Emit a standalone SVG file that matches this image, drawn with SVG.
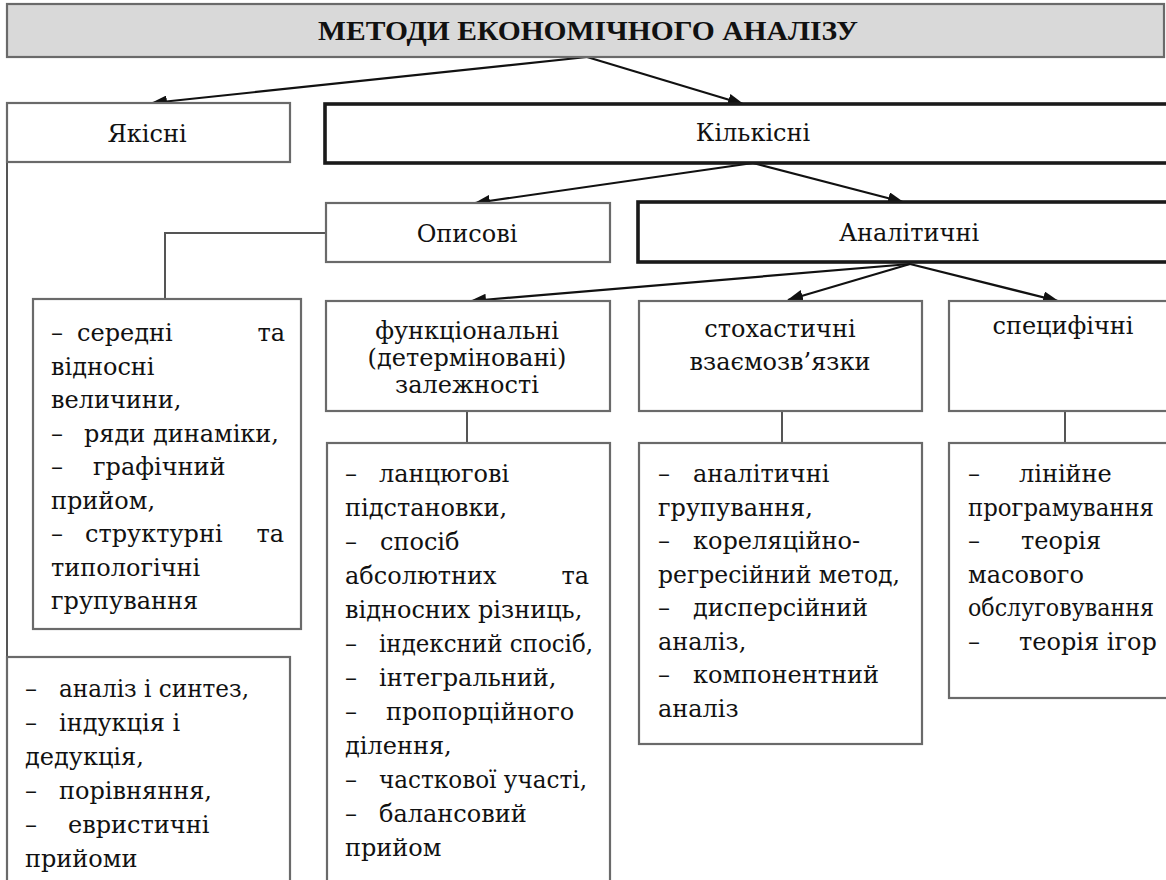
<svg xmlns="http://www.w3.org/2000/svg" width="1166" height="880" viewBox="0 0 1166 880">
<defs>
<marker id="ah" markerUnits="userSpaceOnUse" markerWidth="16" markerHeight="12" refX="15" refY="6" orient="auto">
<path d="M0,0 L16,6 L0,12 Z" fill="#111"/>
</marker>
<style>
.box{fill:#fff;stroke:#6a6a6a;stroke-width:2.2}
.thick{fill:#fff;stroke:#1a1a1a;stroke-width:3.6}
.title{fill:#d9d9d9;stroke:#6a6a6a;stroke-width:2.2}
.arr{fill:none;stroke:#111;stroke-width:2.2;marker-end:url(#ah)}
.ln{fill:none;stroke:#555;stroke-width:2}
.c{text-anchor:middle}
.b{font-family:"Liberation Serif",serif;font-weight:bold;font-size:28px}
</style>
</defs>
<rect width="1166" height="880" fill="#fff"/>

<g id="connectors">
<path class="arr" d="M587,57 L152,103"/>
<path class="arr" d="M587,57 L743,104"/>
<path class="arr" d="M753,163 L475,203"/>
<path class="arr" d="M753,163 L903,202"/>
<path class="arr" d="M910,264 L471,301"/>
<path class="arr" d="M910,264 L788,300"/>
<path class="arr" d="M910,264 L1058,301"/>
<path class="ln" d="M326,233 H165 V299"/>
<path class="ln" d="M7,162 V657"/>
<path class="ln" d="M467,411 V443"/>
<path class="ln" d="M782,411 V443"/>
<path class="ln" d="M1065,411 V443"/>
</g>

<g font-family="DejaVu Serif, serif" font-size="24" fill="#111">
<g id="title">
<rect class="title" x="7" y="4" width="1157" height="53"/>
<text class="c b" x="588" y="40" textLength="540" lengthAdjust="spacingAndGlyphs">МЕТОДИ ЕКОНОМІЧНОГО  АНАЛІЗУ</text>
</g>

<g id="yakisni">
<rect class="box" x="7" y="103" width="283" height="59"/>
<text class="c" x="147" y="142">Якісні</text>
</g>

<g id="kilkisni">
<rect class="thick" x="325" y="104" width="860" height="59"/>
<text class="c" x="753" y="141">Кількісні</text>
</g>

<g id="opysovi">
<rect class="box" x="326" y="203" width="284" height="59"/>
<text class="c" x="467" y="242">Описові</text>
</g>

<g id="analitychni">
<rect class="thick" x="638" y="202" width="547" height="60"/>
<text class="c" x="909" y="241">Аналітичні</text>
</g>

<g id="funktsionalni">
<rect class="box" x="326" y="301" width="284" height="110"/>
<text class="c" x="467" y="339">функціональні</text>
<text class="c" x="467" y="366">(детерміновані)</text>
<text class="c" x="467" y="393">залежності</text>
</g>

<g id="stokhastychni">
<rect class="box" x="639" y="301" width="283" height="110"/>
<text class="c" x="780" y="337">стохастичні</text>
<text class="c" x="780" y="370">взаємозв’язки</text>
</g>

<g id="spetsyfichni">
<rect class="box" x="949" y="301" width="236" height="110"/>
<text class="c" x="1063" y="334">специфічні</text>
</g>

<g id="opysovi-list">
<rect class="box" x="33" y="299" width="268" height="330"/>
<text x="51" y="341">–</text><text x="77" y="341">середні</text><text x="285" y="341" text-anchor="end">та</text>
<text x="51" y="374.5">відносні</text>
<text x="51" y="408">величини,</text>
<text x="51" y="441.5">–</text><text x="84" y="441.5">ряди динаміки,</text>
<text x="51" y="475">–</text><text x="93" y="475">графічний</text>
<text x="51" y="508.5">прийом,</text>
<text x="51" y="542">–</text><text x="85" y="542">структурні</text><text x="284" y="542" text-anchor="end">та</text>
<text x="51" y="575.5">типологічні</text>
<text x="51" y="609">групування</text>
</g>

<g id="yakisni-list">
<rect class="box" x="7" y="657" width="283" height="240"/>
<text x="25" y="697">–</text><text x="59" y="697" textLength="190" lengthAdjust="spacingAndGlyphs">аналіз і синтез,</text>
<text x="25" y="731">–</text><text x="59" y="731">індукція і</text>
<text x="25" y="765">дедукція,</text>
<text x="25" y="799">–</text><text x="59" y="799">порівняння,</text>
<text x="25" y="833">–</text><text x="68" y="833">евристичні</text>
<text x="25" y="867">прийоми</text>
</g>

<g id="funktsionalni-list">
<rect class="box" x="327" y="443" width="283" height="450"/>
<text x="345" y="482">–</text><text x="379" y="482">ланцюгові</text>
<text x="345" y="516">підстановки,</text>
<text x="345" y="550">–</text><text x="380" y="550">спосіб</text>
<text x="345" y="584">абсолютних</text><text x="589" y="584" text-anchor="end">та</text>
<text x="345" y="618">відносних різниць,</text>
<text x="345" y="652">–</text><text x="379" y="652" textLength="214" lengthAdjust="spacingAndGlyphs">індексний спосіб,</text>
<text x="345" y="686">–</text><text x="379" y="686">інтегральний,</text>
<text x="345" y="720">–</text><text x="386" y="720">пропорційного</text>
<text x="345" y="754">ділення,</text>
<text x="345" y="788">–</text><text x="379" y="788" textLength="208" lengthAdjust="spacingAndGlyphs">часткової участі,</text>
<text x="345" y="822">–</text><text x="379" y="822">балансовий</text>
<text x="345" y="856">прийом</text>
</g>

<g id="stokhastychni-list">
<rect class="box" x="639" y="443" width="283" height="301"/>
<text x="658" y="482">–</text><text x="693" y="482">аналітичні</text>
<text x="658" y="515.5">групування,</text>
<text x="658" y="549">–</text><text x="693" y="549">кореляційно-</text>
<text x="658" y="582.5" textLength="242" lengthAdjust="spacingAndGlyphs">регресійний метод,</text>
<text x="658" y="616">–</text><text x="693" y="616">дисперсійний</text>
<text x="658" y="649.5">аналіз,</text>
<text x="658" y="683">–</text><text x="693" y="683">компонентний</text>
<text x="658" y="716.5">аналіз</text>
</g>

<g id="spetsyfichni-list">
<rect class="box" x="949" y="443" width="236" height="255"/>
<text x="968" y="482">–</text><text x="1019" y="482">лінійне</text>
<text x="968" y="515.5" textLength="186" lengthAdjust="spacingAndGlyphs">програмування</text>
<text x="968" y="549">–</text><text x="1021" y="549">теорія</text>
<text x="968" y="582.5">масового</text>
<text x="968" y="616" textLength="186" lengthAdjust="spacingAndGlyphs">обслуговування</text>
<text x="968" y="649.5">–</text><text x="1019" y="649.5">теорія ігор</text>
</g>
</g>
</svg>
